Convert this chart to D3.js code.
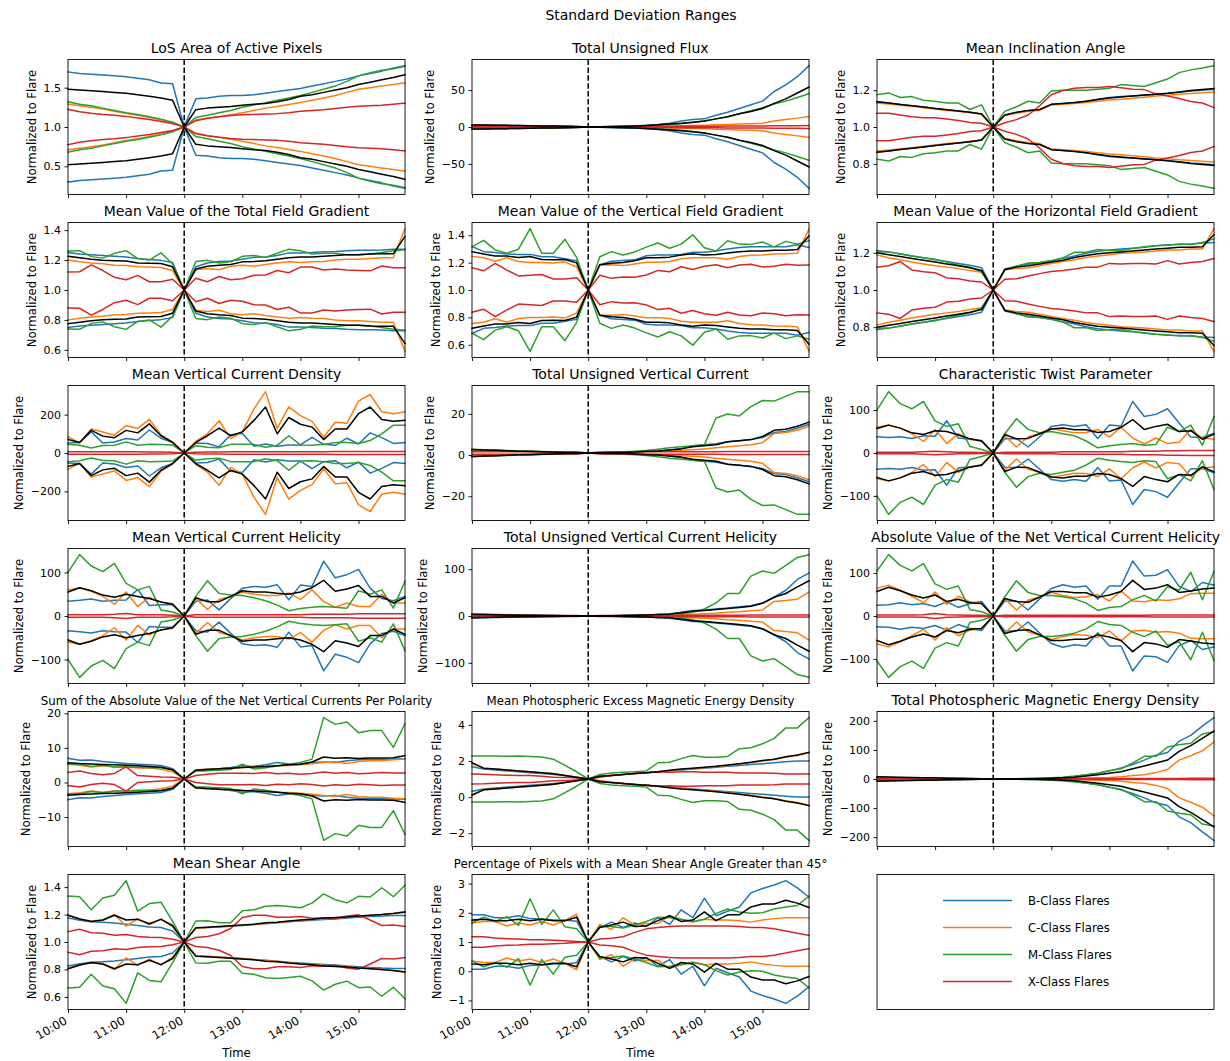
<!DOCTYPE html>
<html>
<head>
<meta charset="utf-8">
<script src="https://cdn.jsdelivr.net/npm/d3@7"></script>
<style>
  body { margin: 0; background: #fff; }
  svg text { font-family: "DejaVu Sans", sans-serif; fill: #000; }
</style>
</head>
<body>
<svg id="fig" width="1230" height="1061"></svg>
<script>
// Sample times (12-minute cadence), flare at 12:00
const times = ["10:00","10:12","10:24","10:36","10:48","11:00","11:12","11:24","11:36","11:48",
  "12:00","12:12","12:24","12:36","12:48","13:00","13:12","13:24","13:36","13:48",
  "14:00","14:12","14:24","14:36","14:48","15:00","15:12","15:24","15:36","15:48"];
const hourTicks = ["10:00","11:00","12:00","13:00","14:00","15:00"];
const flareTime = "12:00";
const classNames = ["B-Class Flares","C-Class Flares","M-Class Flares","X-Class Flares"];

// Standard deviation about the normalised value; rows: B, C, M, X, all flares
const sdLosArea = [
  [.70,.68,.67,.66,.65,.64,.62,.60,.56,.55,0,.36,.37,.39,.40,.40,.41,.43,.45,.47,.49,.52,.55,.58,.61,.65,.68,.71,.75,.78],
  [.29,.27,.25,.23,.20,.17,.15,.12,.09,.05,0,.09,.11,.13,.155,.18,.21,.24,.26,.285,.31,.34,.37,.40,.44,.48,.50,.52,.54,.56],
  [.32,.29,.27,.24,.21,.18,.16,.13,.10,.06,0,.12,.15,.18,.21,.25,.28,.31,.34,.37,.40,.44,.48,.52,.58,.65,.69,.72,.74,.77],
  [.225,.195,.175,.16,.15,.135,.115,.095,.07,.045,0,.08,.11,.13,.145,.155,.16,.165,.17,.18,.20,.21,.22,.235,.25,.265,.27,.275,.29,.305],
  [.48,.47,.46,.45,.44,.43,.41,.39,.37,.34,0,.22,.24,.25,.26,.275,.29,.30,.32,.35,.39,.41,.44,.47,.50,.54,.57,.60,.63,.665]];
const sdUnsignedFlux = [
  [3,2.8,2.5,2.2,2,1.8,1.5,1.2,1,.7,0,.3,.6,1,1.5,2.5,3.5,5,8,10,11,16,20,25,30,35,48,57,68,83],
  [2.5,2.3,2.1,1.9,1.7,1.5,1.3,1,.8,.5,0,.2,.3,.5,.7,1,1.2,1.5,1.8,2,2.5,3,3.5,4,4.5,5,8,10,12,14],
  [2,1.9,1.8,1.6,1.5,1.3,1.1,.9,.7,.5,0,.3,.5,.8,1.2,1.8,2.5,3.5,4.5,6,8,11,14,18,22,26,31,35,40,45],
  [1,1,1,1,1,1,.9,.8,.7,.5,0,.2,.3,.4,.5,.6,.7,.8,.9,1,1,1.1,1.2,1.3,1.4,1.5,1.6,1.7,1.8,1.9],
  [2.8,2.6,2.4,2.2,2,1.8,1.5,1.2,.9,.6,0,.3,.6,1,1.5,2,3,4,5,6.5,8,11,14,18,21,25,32,38,46,54]];
const sdInclination = [
  [.137,.13,.122,.115,.108,.10,.093,.087,.08,.07,0,.063,.078,.088,.094,.122,.127,.132,.14,.15,.16,.165,.168,.172,.177,.182,.188,.195,.2,.205],
  [.13,.125,.118,.112,.105,.097,.09,.085,.077,.07,0,.062,.075,.085,.09,.12,.124,.128,.133,.14,.146,.15,.156,.162,.168,.172,.178,.182,.186,.19],
  [.175,.185,.16,.165,.145,.14,.13,.13,.095,.12,0,.085,.11,.14,.13,.195,.20,.20,.20,.205,.21,.23,.225,.22,.24,.26,.295,.31,.32,.333],
  [.075,.075,.065,.055,.05,.05,.043,.035,.025,.02,0,.023,.04,.065,.115,.175,.198,.21,.215,.215,.22,.213,.205,.203,.18,.168,.155,.138,.13,.105],
  [.137,.13,.122,.115,.108,.10,.093,.087,.08,.07,0,.065,.08,.09,.095,.123,.128,.133,.14,.149,.158,.163,.168,.173,.178,.183,.19,.198,.203,.208]];
const sdTotalGradient = [
  [.25,.24,.235,.23,.225,.22,.21,.203,.198,.183,0,.155,.18,.19,.193,.205,.218,.22,.23,.248,.248,.25,.255,.258,.263,.265,.265,.268,.273,.273],
  [.2,.188,.18,.175,.165,.163,.155,.153,.15,.13,0,.135,.143,.135,.158,.165,.158,.17,.18,.188,.183,.188,.19,.2,.205,.205,.21,.215,.215,.41],
  [.26,.263,.223,.213,.245,.263,.21,.20,.248,.175,0,.19,.198,.18,.188,.225,.23,.218,.245,.273,.263,.24,.245,.245,.235,.235,.24,.25,.263,.268],
  [.12,.122,.168,.13,.085,.068,.098,.055,.055,.072,0,.078,.055,.09,.068,.075,.098,.1,.13,.115,.153,.153,.133,.14,.133,.13,.128,.16,.148,.148],
  [.225,.215,.205,.198,.195,.193,.18,.178,.177,.155,0,.14,.158,.165,.17,.188,.19,.195,.205,.215,.22,.22,.225,.23,.235,.235,.24,.243,.243,.358]];
const sdVerticalGradient = [
  [.318,.28,.273,.263,.26,.26,.243,.243,.228,.213,0,.185,.21,.215,.22,.25,.255,.255,.26,.275,.275,.285,.30,.31,.315,.315,.315,.315,.33,.31],
  [.245,.235,.21,.235,.208,.2,.2,.198,.205,.168,0,.183,.185,.178,.19,.203,.203,.208,.228,.235,.235,.235,.225,.245,.253,.255,.263,.265,.268,.445],
  [.315,.362,.293,.268,.298,.448,.268,.268,.37,.238,0,.243,.28,.255,.278,.313,.343,.305,.335,.403,.308,.285,.36,.335,.333,.35,.315,.355,.335,.36],
  [.163,.14,.195,.145,.103,.108,.113,.08,.08,.09,0,.108,.085,.095,.093,.11,.143,.133,.17,.15,.173,.185,.163,.183,.188,.168,.173,.188,.18,.183],
  [.28,.263,.248,.248,.238,.245,.223,.22,.223,.198,0,.185,.195,.20,.213,.235,.235,.24,.255,.265,.255,.26,.27,.28,.285,.285,.29,.29,.295,.395]];
const sdHorizontalGradient = [
  [.213,.205,.193,.183,.173,.163,.153,.143,.133,.12,0,.113,.128,.14,.148,.158,.17,.183,.198,.208,.215,.22,.225,.23,.238,.243,.245,.248,.253,.255],
  [.188,.173,.163,.15,.14,.13,.123,.115,.105,.095,0,.108,.115,.12,.13,.143,.153,.163,.175,.183,.19,.198,.2,.205,.21,.215,.215,.22,.22,.33],
  [.205,.205,.195,.183,.173,.165,.15,.135,.123,.098,0,.108,.128,.145,.148,.158,.173,.203,.203,.218,.213,.213,.223,.233,.238,.24,.248,.245,.255,.275],
  [.123,.13,.153,.108,.098,.093,.065,.06,.048,.043,0,.058,.06,.075,.088,.1,.105,.113,.123,.123,.143,.14,.143,.143,.14,.158,.14,.148,.153,.17],
  [.2,.19,.18,.17,.16,.15,.14,.13,.12,.105,0,.11,.123,.13,.14,.15,.16,.175,.185,.195,.2,.205,.21,.215,.22,.225,.23,.23,.233,.298]];
const sdCurrentDensity = [
  [52,55,110,52,57,76,68,120,77,55,0,52,50,32,95,102,35,47,35,42,42,82,45,40,77,47,105,80,50,55],
  [85,53,125,110,93,143,128,175,95,58,0,60,100,168,75,110,230,320,128,240,195,165,82,160,155,270,305,215,205,215],
  [45,40,26,39,40,58,40,45,44,42,0,38,30,27,45,45,45,30,40,90,42,40,45,55,55,50,65,100,145,145],
  [7,7,6,6,6,6,6,5,5,4,0,4,5,5,6,6,6,7,7,7,7,7,7,8,8,8,8,8,8,8],
  [70,55,118,88,80,118,105,152,90,55,0,55,90,130,90,110,170,240,100,185,150,135,70,125,125,205,240,175,165,170]];
const sdUnsignedCurrent = [
  [1.5,1.3,1.1,1,.8,.7,.5,.4,.3,.2,0,.1,.2,.3,.5,.8,1,1.5,2.2,3.5,4,4.5,5.5,6,6.5,7.5,10,10.5,12,14],
  [1.2,1.1,1,.9,.8,.6,.5,.4,.3,.2,0,.1,.2,.3,.4,.6,.8,1,1.3,1.6,2,2.5,3,3.5,4,5,9.5,10,11,13],
  [1.8,1.6,1.4,1.2,1,.9,.7,.5,.4,.2,0,.2,.4,.6,.8,1.2,1.8,2.5,3,3.5,4,17,18.9,18,22.5,25.5,25.2,27.5,29.8,29.8],
  [.6,.6,.6,.6,.6,.55,.55,.5,.5,.45,0,.45,.5,.5,.55,.55,.6,.6,.6,.65,.65,.65,.7,.7,.7,.7,.75,.75,.75,.75],
  [1.7,1.5,1.3,1.1,.9,.8,.6,.5,.3,.2,0,.1,.2,.3,.5,.8,1,1.5,2,3,3.5,4,5.5,6,6.5,8,11,11.5,13,15]];
const sdTwist = [
  [38,36,38,34,40,39,75,35,32,29,0,33,34,14,38,62,66,62,66,34,65,63,120,85,90,103,70,37,36,46],
  [60,65,58,45,27,55,22,45,32,28,0,40,14,38,45,57,52,47,48,55,37,60,35,21,35,22,25,55,35,32],
  [100,143,115,103,120,75,62,68,15,8,0,45,80,55,47,50,45,40,28,12,17,20,22,18,20,60,50,65,18,85],
  [2,2,2,2,3,4,3,2,2,1,0,2,2,2,2,2,3,3,3,3,3,3,4,4,4,5,5,6,6,6],
  [57,65,58,47,43,52,50,42,33,28,0,43,33,34,45,56,58,54,54,48,50,60,78,55,62,67,50,52,32,44]];
const sdMeanHelicity = [
  [34,36,39,34,36,37,61,24,26,26,0,34,37,14,40,64,68,66,72,37,71,68,126,88,95,107,64,40,35,45],
  [60,65,57,45,27,55,22,43,32,28,0,40,15,38,45,55,50,47,47,53,38,60,33,20,30,22,22,50,30,30],
  [100,141,115,102,121,75,60,68,14,9,0,45,81,52,48,47,42,35,25,12,17,20,22,20,18,58,50,60,18,80],
  [3,3,3,3,4,6,3,3,3,2,0,3,3,3,3,3,3,3,3,3,3,4,4,4,4,5,5,5,5,5],
  [55,65,58,48,43,50,45,40,32,27,0,42,33,33,45,58,55,55,52,50,55,65,82,57,62,70,45,45,30,42]];
const sdUnsignedHelicity = [
  [4,3.5,3,2.5,2,1.5,1.2,1,.7,.4,0,.3,.6,1,1.5,2,3,5,8,12,13,15,17,20,22,28,40,55,78,92],
  [2,1.8,1.5,1.2,1,.8,.6,.4,.3,.2,0,.2,.4,.6,.8,1,1.5,2,3,4,5,6,8,9,11,13,31,33,36,51],
  [3,2.5,2,1.8,1.5,1.2,1,.8,.5,.3,0,.3,.6,1,1.5,2,3,4,5,8,15,28,48,48,85,96,91,108,125,131],
  [1.8,1.7,1.6,1.6,1.5,1.5,1.4,1.3,1.2,1.0,0,1.0,1.1,1.2,1.3,1.4,1.5,1.5,1.6,1.6,1.7,1.7,1.8,1.8,1.9,1.9,2,2,2.1,2.1],
  [3.5,3,2.5,2.2,1.8,1.5,1.2,1,.7,.4,0,.3,.6,1,1.5,2,3,4,7,10,12,14,16,18,21,27,40,48,62,75]];
const sdNetHelicity = [
  [25,26,31,26,29,22,33,20,29,34,0,35,35,14,40,64,73,67,70,39,70,70,128,93,95,108,69,57,78,72],
  [65,72,60,46,31,56,27,46,33,29,0,40,14,37,45,55,48,43,45,50,35,58,35,33,38,36,40,52,53,53],
  [105,143,118,105,122,75,62,70,15,10,0,45,82,55,48,48,45,40,30,13,20,22,38,48,35,68,60,102,38,104],
  [2.5,2.5,2.5,2.5,3,6,3,2.5,2,1.5,0,2,2,2,2,2,2,2,2,2,2,2,2,2,2.5,2.5,2.5,2.5,2.5,2.5],
  [57,67,59,49,42,49,34,39,31,29,0,41,34,32,44,57,57,54,54,44,49,57,83,62,65,73,55,58,63,65]];
const sdNetCurrents = [
  [6.0,5.45,5.5,5.05,4.75,4.5,4.3,4.1,3.9,3.0,0,2.5,2.85,3,3.35,3.8,3.65,4.1,4.75,4.35,4.25,4.75,4.95,4.75,5.25,5.6,5.65,5.65,5.75,5.85],
  [4.25,4,3.5,3.85,3.5,3.5,3.2,3.25,2.8,2.1,0,2.65,2.8,3,3.1,3.35,3.55,3.65,3.85,3.9,4.1,4.4,4.8,5,4.5,5.05,5.25,5.3,5.55,5.75],
  [4.35,4.3,3.6,4,3.5,3.5,3.4,3.25,3.35,2.65,0,2.35,2.35,2.55,2.75,4.25,2.9,3.25,3.75,4.25,4.75,5.75,17.75,15.8,16.5,13.4,14,14,9.15,16],
  [1.9,2.3,1.6,1.2,1.6,3.5,1.0,.8,.6,.5,0,1,1.35,1.65,1.65,1.65,1.6,1.85,1.5,1.65,1.4,1.6,2,1.65,1.9,1.5,1.65,1.85,1.75,1.75],
  [4.7,4.45,4.35,4.2,4.1,3.95,3.8,3.6,3.4,2.7,0,2.55,2.75,2.95,3.1,3.3,3.5,3.65,3.85,4.1,4.25,4.9,6.35,6.0,6.15,5.9,6.05,6.1,6.15,6.75]];
const sdExcessEnergy = [
  [.68,.55,.5,.45,.4,.35,.3,.25,.2,.1,0,.15,.2,.25,.3,.35,.4,.45,.5,.55,.6,.65,.7,.75,.8,.85,.9,.95,1.0,1.0],
  [.85,.6,.55,.5,.45,.4,.35,.3,.2,.1,0,.15,.2,.25,.3,.35,.4,.46,.53,.58,.63,.68,.75,.83,.9,1,1.08,1.2,1.3,1.45],
  [1.27,1.27,1.28,1.26,1.27,1.25,1.22,1.1,.75,.4,0,.25,.33,.38,.4,.45,.9,.93,1.13,1.3,1.2,1.2,1.25,1.68,1.73,1.95,2.25,2.83,2.83,3.4],
  [.28,.27,.24,.21,.2,.19,.15,.1,.09,.05,0,.1,.2,.25,.3,.35,.4,.38,.4,.4,.38,.38,.38,.33,.33,.33,.32,.28,.28,.28],
  [.9,.6,.55,.5,.45,.4,.35,.29,.2,.1,0,.15,.2,.25,.3,.35,.4,.48,.55,.6,.65,.7,.78,.85,.93,1.03,1.1,1.23,1.33,1.48]];
const sdTotalEnergy = [
  [6,5,4.5,4,3.5,3,2.5,2,1.5,1,0,.5,1,1.5,2,3,5,8,14,20,28,38,50,65,82,91,130,150,182,211],
  [4,3.5,3,2.5,2,2,1.5,1,.8,.5,0,.2,.4,.6,.8,1,1.5,2,3,4,5,8,12,15,22,33,65,80,97,127],
  [4,3.5,3,2.5,2,2,1.5,1,.8,.5,0,.5,1,1.5,2,4,6,10,15,20,28,35,55,78,78,110,118,123,155,162],
  [1.5,1.4,1.3,1.2,1.1,1,1,.9,.8,.6,0,.6,.8,.9,1,1,1.1,1.2,1.3,1.4,1.5,1.6,1.7,1.8,1.9,2,2.1,2.2,2.3,2.4],
  [8,7,6,5,4.5,4,3,2.5,1.5,1,0,.3,.6,1,1.5,2.5,4,6,10,15,20,25,35,45,55,65,95,115,140,165]];
const sdShearAngle = [
  [.175,.158,.148,.143,.138,.13,.12,.11,.105,.08,0,.1,.105,.11,.115,.12,.128,.133,.14,.148,.153,.158,.163,.168,.175,.18,.185,.19,.193,.193],
  [.195,.168,.153,.16,.2,.115,.17,.125,.168,.11,0,.1,.105,.11,.118,.123,.128,.135,.14,.15,.158,.163,.17,.175,.18,.187,.193,.2,.21,.222],
  [.335,.33,.235,.32,.34,.447,.225,.28,.29,.15,0,.153,.155,.14,.14,.228,.235,.26,.265,.258,.25,.283,.35,.308,.285,.333,.328,.395,.33,.413],
  [.075,.093,.068,.063,.05,.055,.04,.035,.033,.02,0,.033,.04,.06,.098,.178,.195,.195,.18,.18,.185,.173,.175,.17,.19,.198,.16,.12,.123,.113],
  [.195,.168,.15,.16,.195,.16,.165,.133,.165,.12,0,.103,.108,.113,.118,.123,.13,.14,.143,.153,.16,.165,.175,.178,.183,.19,.195,.2,.208,.218]];
const sdShearPixels = [
  [.93,.93,.83,.83,.9,.8,.79,.75,.75,.71,0,.5,.68,.5,.65,.53,.83,.6,1.1,.83,1.5,.9,1.05,1.2,1.68,1.83,1.95,2.1,1.85,1.53],
  [.65,.7,.7,.55,.65,.58,.7,.58,.73,.95,0,.6,.43,.83,.58,.63,.63,.9,.78,.68,.78,.75,.75,.73,.68,.75,.8,.83,.83,.83],
  [.65,.85,.7,.87,.57,1.48,.6,1.1,.52,.45,0,.55,.53,.48,.58,.7,.85,.83,.78,.7,.78,.98,1.13,1.03,.98,1.0,1.13,1.2,1.25,1.57],
  [.18,.18,.14,.11,.1,.08,.08,.06,.045,.02,0,.1,.13,.18,.33,.45,.5,.53,.55,.55,.55,.55,.55,.53,.5,.5,.45,.38,.3,.23],
  [.75,.78,.73,.73,.78,.73,.78,.73,.73,.85,0,.5,.58,.68,.53,.55,.73,.9,.7,.75,1.03,.73,.93,.93,1.2,1.3,1.3,1.43,1.33,1.18]];

const panelTitles = ["LoS Area of Active Pixels","Total Unsigned Flux","Mean Inclination Angle",
  "Mean Value of the Total Field Gradient","Mean Value of the Vertical Field Gradient","Mean Value of the Horizontal Field Gradient",
  "Mean Vertical Current Density","Total Unsigned Vertical Current","Characteristic Twist Parameter",
  "Mean Vertical Current Helicity","Total Unsigned Vertical Current Helicity","Absolute Value of the Net Vertical Current Helicity",
  "Sum of the Absolute Value of the Net Vertical Currents Per Polarity","Mean Photospheric Excess Magnetic Energy Density","Total Photospheric Magnetic Energy Density",
  "Mean Shear Angle","Percentage of Pixels with a Mean Shear Angle Greater than 45\u00b0"];
const panelCenters = [1,0,1,1,1,1,0,1,0,0,0,0,1,1,0,1,1];
const panelTicks = [[0.5,1.0,1.5],[-50,0,50],[0.8,1.0,1.2],[0.6,0.8,1.0,1.2,1.4],[0.6,0.8,1.0,1.2,1.4],[0.8,1.0,1.2],
  [-200,0,200],[-20,0,20],[-100,0,100],[-100,0,100],[-100,0,100],[-100,0,100],
  [-10,0,10,20],[-2,0,2,4],[-200,-100,0,100,200],[0.6,0.8,1.0,1.2,1.4],[-1,0,1,2,3]];
const panelSd = [sdLosArea,sdUnsignedFlux,sdInclination,sdTotalGradient,sdVerticalGradient,sdHorizontalGradient,
  sdCurrentDensity,sdUnsignedCurrent,sdTwist,sdMeanHelicity,sdUnsignedHelicity,sdNetHelicity,
  sdNetCurrents,sdExcessEnergy,sdTotalEnergy,sdShearAngle,sdShearPixels];
const smallTitles = [12,13,16];
const labelledX = [15,16];

// ---- layout & style ----
const lineColors = ["#1f77b4","#ff7f0e","#2ca02c","#d62728","#000000"];
const colLeft = [68,472,877], rowTop = [59.5,222.5,385.5,548.5,711.5,874.5];
const pw = 337, ph = 135;

const parse = d3.timeParse("%H:%M");
const tDates = times.map(parse);
const x = d3.scaleTime().domain([tDates[0], tDates[tDates.length-1]]).range([0, pw]);

const svg = d3.select("#fig");
svg.append("text").attr("x",641).attr("y",20).attr("text-anchor","middle")
  .style("font-size","14px").text("Standard Deviation Ranges");

panelSd.forEach((sd, k) => {
  sd.forEach(r => { if (r.length !== times.length) throw new Error("length " + k); });
  const col = k % 3, row = Math.floor(k / 3);
  const g = svg.append("g").attr("transform", `translate(${colLeft[col]},${rowTop[row]})`);
  const center = panelCenters[k];
  const vals = [];
  sd.forEach(r => r.forEach(v => { vals.push(center + v, center - v); }));
  const [lo, hi] = d3.extent(vals);
  const pad = (hi - lo) * 0.05;
  const y = d3.scaleLinear().domain([lo - pad, hi + pad]).range([ph, 0]);

  const line = d3.line().x((d, i) => x(tDates[i])).y(d => y(d));
  sd.forEach((r, ci) => {
    [1, -1].forEach(sign => {
      g.append("path").datum(r.map(v => center + sign * v))
        .attr("d", line).attr("fill", "none")
        .attr("stroke", lineColors[ci]).attr("stroke-width", 1.5)
        .attr("stroke-linejoin", "round").attr("stroke-linecap", "square");
    });
  });

  // flare time marker
  g.append("line").attr("x1", x(parse(flareTime))).attr("x2", x(parse(flareTime)))
    .attr("y1", 0).attr("y2", ph).attr("stroke", "#000").attr("stroke-width", 1.5)
    .attr("stroke-dasharray", "5.5,2.4");

  // frame
  g.append("rect").attr("width", pw).attr("height", ph).attr("fill", "none")
    .attr("stroke", "#000").attr("stroke-width", 0.9);

  // y axis
  const ticks = panelTicks[k];
  const fmt = ticks.some(t => !Number.isInteger(t)) ? d3.format(".1f") : d3.format("d");
  const ya = g.append("g").call(d3.axisLeft(y).tickValues(ticks).tickFormat(fmt).tickSize(3.5).tickPadding(3.5));
  ya.select(".domain").remove();
  ya.attr("font-family", "DejaVu Sans").attr("font-size", 11);
  ya.selectAll(".tick line").attr("stroke", "#000").attr("stroke-width", 0.9);
  let minX = 0;
  ya.selectAll(".tick text").each(function () { minX = Math.min(minX, this.getBBox().x); });
  g.append("text").attr("transform", `translate(${minX - 7.5},${ph / 2}) rotate(-90)`)
    .attr("text-anchor", "middle").style("font-size", "11.7px").text("Normalized to Flare");

  // x axis
  const showX = labelledX.includes(k);
  const xa = g.append("g").attr("transform", `translate(0,${ph})`)
    .call(d3.axisBottom(x).tickValues(hourTicks.map(parse)).tickSize(3.5)
      .tickFormat(showX ? d3.timeFormat("%H:%M") : () => ""));
  xa.select(".domain").remove();
  xa.attr("font-family", "DejaVu Sans").attr("font-size", 11.7);
  xa.selectAll(".tick line").attr("stroke", "#000").attr("stroke-width", 0.9);
  if (showX) {
    xa.selectAll(".tick text").attr("y", 0).attr("dy", "0.75em").attr("text-anchor", "end")
      .attr("transform", "translate(-5,6) rotate(-30)");
    g.append("text").attr("x", pw / 2).attr("y", ph + 47).attr("text-anchor", "middle")
      .style("font-size", "11.7px").text("Time");
  }

  // title
  g.append("text").attr("x", pw / 2).attr("y", -7).attr("text-anchor", "middle")
    .style("font-size", smallTitles.includes(k) ? "11.8px" : "14px").text(panelTitles[k]);
});

// legend panel
const lg = svg.append("g").attr("transform", `translate(${colLeft[2]},${rowTop[5]})`);
lg.append("rect").attr("width", pw).attr("height", ph).attr("fill", "none")
  .attr("stroke", "#000").attr("stroke-width", 0.9);
classNames.forEach((name, i) => {
  const yy = 26 + i * 27;
  lg.append("line").attr("x1", 66).attr("x2", 135).attr("y1", yy).attr("y2", yy)
    .attr("stroke", lineColors[i]).attr("stroke-width", 1.5);
  lg.append("text").attr("x", 151).attr("y", yy + 4).style("font-size", "11.7px").text(name);
});
</script>
</body>
</html>
